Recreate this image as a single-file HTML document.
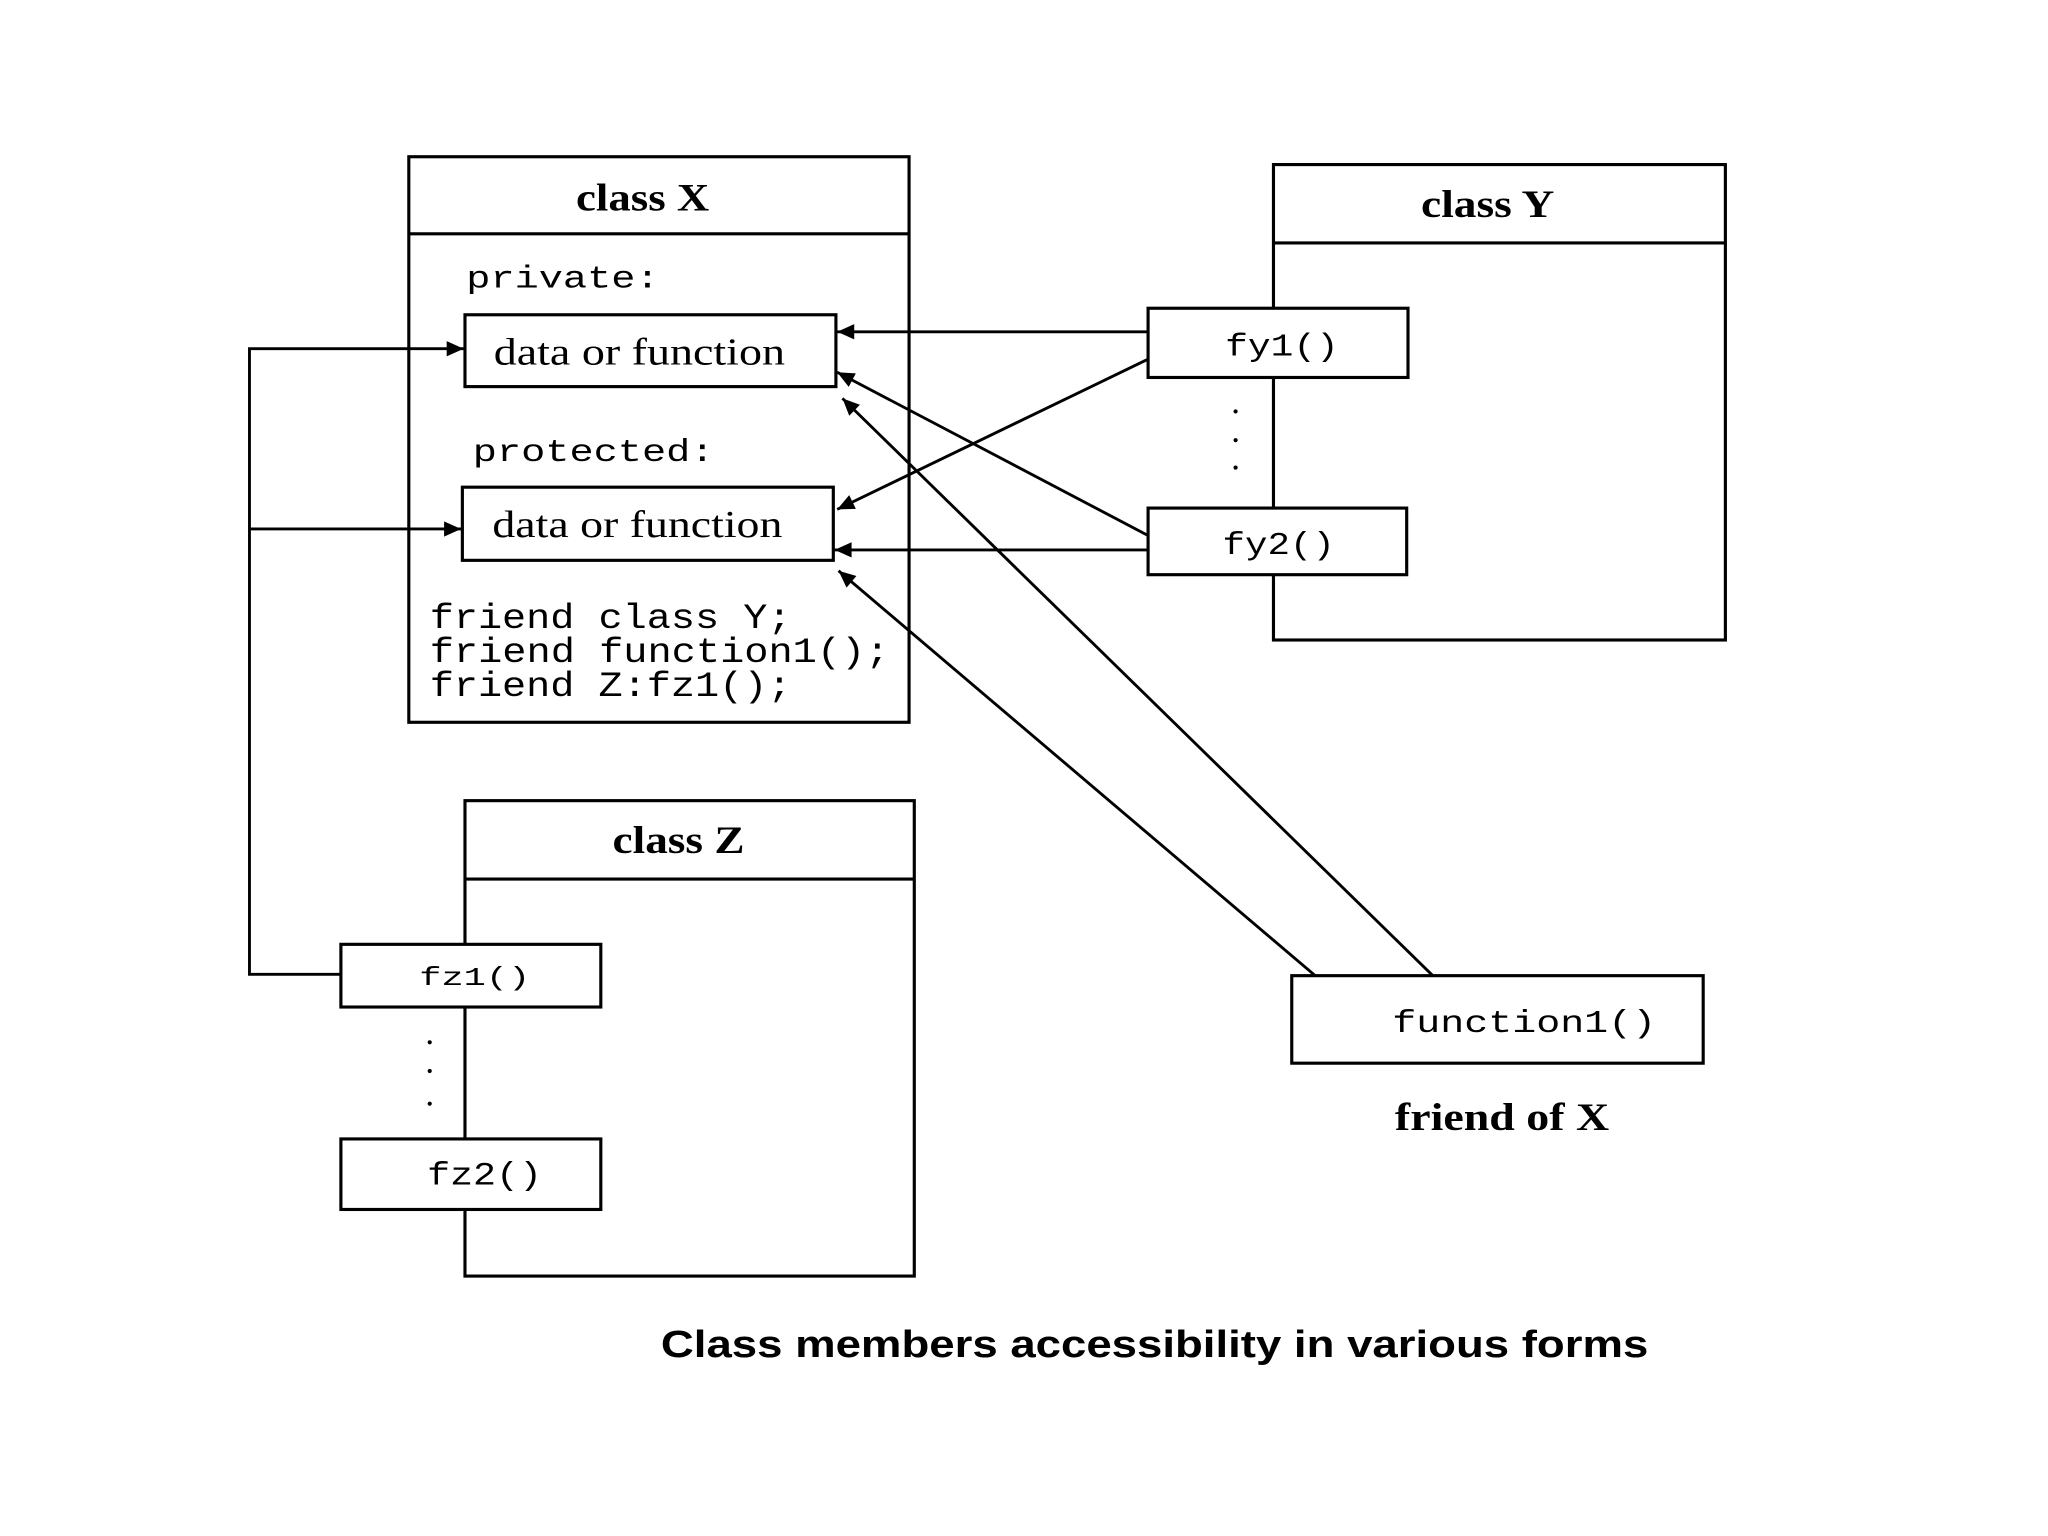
<!DOCTYPE html>
<html><head><meta charset="utf-8"><style>html,body{margin:0;padding:0;background:#fff}svg{display:block}</style></head>
<body>
<svg width="2048" height="1536" viewBox="0 0 1568 1176" xmlns="http://www.w3.org/2000/svg">
<defs><marker id="a" viewBox="0 0 10 10" refX="10" refY="5" markerWidth="15" markerHeight="13" orient="auto" markerUnits="userSpaceOnUse"><path d="M0,0.5 L10,5 L0,9.5 z" fill="#000"/></marker></defs>
<g fill="none" stroke="#000" stroke-width="2.4">
<rect x="313" y="120" width="383" height="433"/><line x1="313" y1="179" x2="696" y2="179"/>
<rect x="975" y="126" width="346" height="364"/><line x1="975" y1="186" x2="1321" y2="186"/>
<rect x="356" y="613" width="344" height="364"/><line x1="356" y1="673" x2="700" y2="673"/>
</g>
<g fill="#fff" stroke="#000" stroke-width="2.4">
<rect x="356" y="241" width="284" height="55"/>
<rect x="354" y="373" width="284" height="56"/>
<rect x="879" y="236" width="199" height="53"/>
<rect x="879" y="389" width="198" height="51"/>
<rect x="261" y="723" width="199" height="48"/>
<rect x="261" y="872" width="199" height="54"/>
<rect x="989" y="747" width="315" height="67"/>
</g>
<g stroke="#000" stroke-width="2.2" fill="none" marker-end="url(#a)">
<line x1="879" y1="254" x2="641" y2="254"/>
<line x1="879" y1="275" x2="641" y2="390"/>
<line x1="879" y1="410" x2="641" y2="285"/>
<line x1="879" y1="421" x2="639" y2="421"/>
<line x1="1097" y1="747" x2="645" y2="305"/>
<line x1="1007" y1="747" x2="642" y2="437"/>
<polyline points="261,746 191,746 191,267 355,267"/>
<line x1="191" y1="405" x2="353" y2="405"/>
</g>
<g fill="#000">
<circle cx="946" cy="315" r="1.6"/><circle cx="946" cy="337" r="1.6"/><circle cx="946" cy="358" r="1.6"/>
<circle cx="329" cy="798" r="1.6"/><circle cx="329" cy="820" r="1.6"/><circle cx="329" cy="845" r="1.6"/>
</g>
<g font-family="Liberation Serif, serif" font-weight="bold" font-size="30">
<text x="441" y="161" textLength="102" lengthAdjust="spacingAndGlyphs">class X</text>
<text x="1088" y="166" textLength="102" lengthAdjust="spacingAndGlyphs">class Y</text>
<text x="469" y="653" textLength="101" lengthAdjust="spacingAndGlyphs">class Z</text>
<text x="1068" y="865" textLength="164" lengthAdjust="spacingAndGlyphs">friend of X</text>
</g>
<g font-family="Liberation Serif, serif" font-size="29">
<text x="378" y="279" textLength="223" lengthAdjust="spacingAndGlyphs">data or function</text>
<text x="377" y="411" textLength="222" lengthAdjust="spacingAndGlyphs">data or function</text>
</g>
<g font-family="Liberation Mono, monospace" font-size="24">
<text x="357" y="220" textLength="148" lengthAdjust="spacingAndGlyphs">private:</text>
<text x="362" y="353" textLength="185" lengthAdjust="spacingAndGlyphs">protected:</text>
<text x="938" y="272" textLength="87" lengthAdjust="spacingAndGlyphs">fy1()</text>
<text x="936" y="424" textLength="86" lengthAdjust="spacingAndGlyphs">fy2()</text>
<text x="321" y="754" font-size="20" textLength="85" lengthAdjust="spacingAndGlyphs">fz1()</text>
<text x="327" y="907" font-size="25" textLength="88" lengthAdjust="spacingAndGlyphs">fz2()</text>
<text x="1066" y="790" textLength="202" lengthAdjust="spacingAndGlyphs">function1()</text>
</g>
<g font-family="Liberation Mono, monospace" font-size="27">
<text x="329" y="481" textLength="277" lengthAdjust="spacingAndGlyphs">friend class Y;</text>
<text x="329" y="507" textLength="352" lengthAdjust="spacingAndGlyphs">friend function1();</text>
<text x="329" y="533" textLength="277" lengthAdjust="spacingAndGlyphs">friend Z:fz1();</text>
</g>
<text x="506" y="1039" font-family="Liberation Sans, sans-serif" font-weight="bold" font-size="29" textLength="756" lengthAdjust="spacingAndGlyphs">Class members accessibility in various forms</text>
</svg>
</body></html>
